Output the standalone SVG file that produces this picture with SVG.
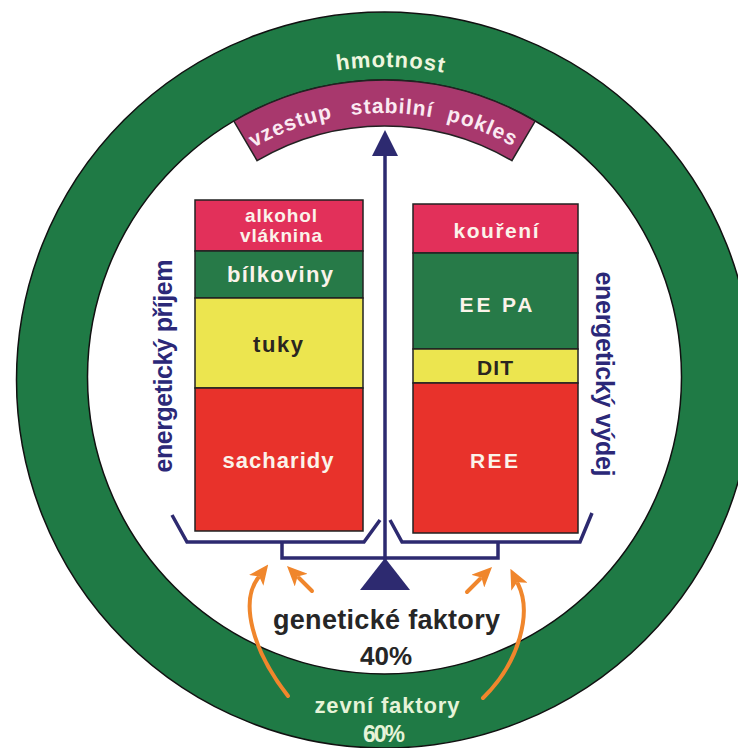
<svg xmlns="http://www.w3.org/2000/svg" width="738" height="748" viewBox="0 0 738 748">
<defs>
<style>
.t{font-family:'Liberation Sans',Arial,Helvetica,sans-serif;font-weight:bold;}
.ringtxt{font-size:22px;fill:#eef6df;text-anchor:middle;}
.bandtxt{font-size:21px;fill:#fbeaf2;text-anchor:middle;}
.box{stroke:#222;stroke-width:1.5;}
.crim{fill:#e2305a;}
.grn{fill:#277a48;}
.yel{fill:#ece54f;}
.red{fill:#e8322b;}
.wt{fill:#fbf3ea;text-anchor:middle;}
.dk{fill:#2a2520;text-anchor:middle;}
.side{font-size:25px;fill:#2b2878;text-anchor:middle;}
.navy{stroke:#2d2a70;fill:none;stroke-width:3.5;stroke-linejoin:miter;}
.orange{stroke:#f0862c;fill:none;stroke-width:4;stroke-linecap:round;marker-end:url(#oh);}
</style>
<marker id="oh" markerUnits="userSpaceOnUse" markerWidth="20" markerHeight="18" viewBox="0 0 20 18" refX="3" refY="9" orient="auto"><path d="M0,0 L20,9 L0,18 L5,9 Z" fill="#f0862c"/></marker>
<marker id="nh" markerUnits="userSpaceOnUse" markerWidth="26" markerHeight="26" viewBox="0 0 26 26" refX="2" refY="13" orient="auto"><path d="M0,0 L26,13 L0,26 Z" fill="#2d2a70"/></marker>
<path id="arcH" d="M 74.5 377 A 310 310 0 0 1 694.5 377"/>
<path id="arcB" d="M 120.5 377 A 264 264 0 0 1 648.5 377"/>
</defs>
<rect width="738" height="748" fill="#ffffff"/>

<g id="ring">
<circle cx="384.5" cy="380" r="368" fill="#1f7a45" stroke="#111" stroke-width="1.5"/>
<circle cx="384.5" cy="377" r="297" fill="#ffffff" stroke="#111" stroke-width="1.5"/>
<text class="t ringtxt" letter-spacing="1"><textPath href="#arcH" startOffset="493">hmotnost</textPath></text>
<text class="t" x="387" y="713" font-size="22" fill="#e6f3d8" text-anchor="middle" textLength="145" lengthAdjust="spacing">zevní faktory</text>
<text class="t" x="384" y="742" font-size="23" fill="#e6f3d8" text-anchor="middle" textLength="42" lengthAdjust="spacing">60%</text>
</g>

<g id="weight-band">
<path d="M 233.8 121.1 A 297 297 0 0 1 535.2 121.1 L 511.9 160.7 A 251 251 0 0 0 257.1 160.7 Z" fill="#a8386d" stroke="#222" stroke-width="1.5"/>
<text class="t bandtxt" letter-spacing="1"><textPath href="#arcB" startOffset="320">vzestup</textPath></text>
<text class="t bandtxt" letter-spacing="1"><textPath href="#arcB" startOffset="422">stabilní</textPath></text>
<text class="t bandtxt" letter-spacing="1"><textPath href="#arcB" startOffset="513">pokles</textPath></text>
</g>

<g id="intake">
<rect class="box crim" x="195" y="200" width="168" height="51"/>
<rect class="box grn" x="195" y="251" width="168" height="47"/>
<rect class="box yel" x="195" y="298" width="168" height="90"/>
<rect class="box red" x="195" y="388" width="168" height="143"/>
<text class="t wt" x="281" y="222" font-size="19" textLength="72" lengthAdjust="spacing">alkohol</text>
<text class="t wt" x="281" y="242" font-size="19" textLength="82" lengthAdjust="spacing">vláknina</text>
<text class="t wt" x="280" y="282" font-size="22" textLength="106" lengthAdjust="spacing">bílkoviny</text>
<text class="t dk" x="278" y="352" font-size="22" textLength="50" lengthAdjust="spacing">tuky</text>
<text class="t wt" x="278" y="468" font-size="22" textLength="111" lengthAdjust="spacing">sacharidy</text>
<text class="t side" transform="translate(172,366) rotate(-90)" textLength="213" lengthAdjust="spacing">energetický příjem</text>
</g>

<g id="expenditure">
<rect class="box crim" x="413" y="204" width="165" height="49"/>
<rect class="box grn" x="413" y="253" width="165" height="96"/>
<rect class="box yel" x="413" y="349" width="165" height="34"/>
<rect class="box red" x="413" y="383" width="165" height="150"/>
<text class="t wt" x="496" y="238" font-size="21" textLength="85" lengthAdjust="spacing">kouření</text>
<text class="t wt" x="496" y="312" font-size="21" textLength="73" lengthAdjust="spacing">EE PA</text>
<text class="t dk" x="495" y="375" font-size="21" textLength="36" lengthAdjust="spacing">DIT</text>
<text class="t wt" x="494" y="468" font-size="21" textLength="48" lengthAdjust="spacing">REE</text>
<text class="t side" transform="translate(596,374) rotate(90)" textLength="205" lengthAdjust="spacing">energetický výdej</text>
</g>

<g id="balance">
<polyline class="navy" points="172,515 187,542 364,542 380,520"/>
<polyline class="navy" points="390,520 402,542 580,542 592,513"/>
<polyline class="navy" points="282,542 282,558 498,558 498,542"/>
<polygon points="385,558 360,590 410,590" fill="#2d2a70"/>
</g>

<g id="genetic">
<text class="t" x="386.5" y="629" font-size="27" fill="#262626" text-anchor="middle" textLength="227" lengthAdjust="spacing">genetické faktory</text>
<text class="t" x="386" y="665" font-size="26" fill="#262626" text-anchor="middle">40%</text>
</g>

<g id="connectors">
<line x1="385" y1="560" x2="385" y2="154" stroke="#2d2a70" stroke-width="3.5" marker-end="url(#nh)"/>
<path class="orange" d="M 288 696 C 252 650, 240 602, 258 578"/>
<path class="orange" d="M 312 591 L 299 578"/>
<path class="orange" d="M 467 592 L 480 579"/>
<path class="orange" d="M 483 698 C 520 662, 532 612, 518 584"/>
</g>
</svg>
